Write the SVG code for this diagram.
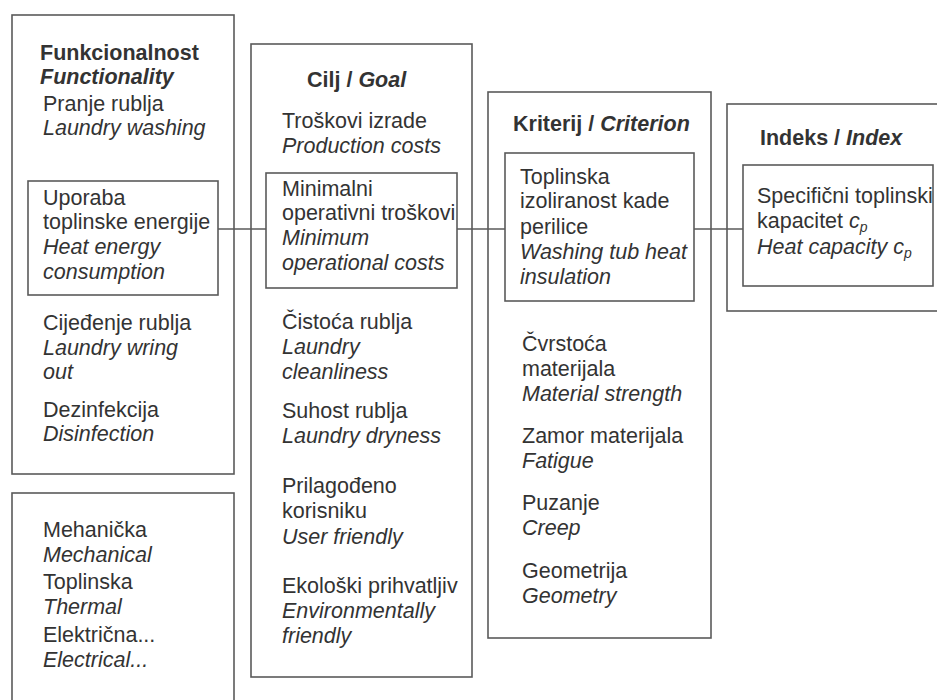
<svg xmlns="http://www.w3.org/2000/svg" width="937" height="700" viewBox="0 0 937 700">
<style>
.box{fill:none;stroke:#5a5a5a;stroke-width:1.6}
.con{fill:none;stroke:#5a5a5a;stroke-width:1.4}
text{font-family:"Liberation Sans",Arial,sans-serif;font-size:21.5px;fill:#333}
.h{font-weight:bold;font-size:21.5px}
.i{font-style:italic}
.sub{font-style:italic;font-size:14px}
</style>
<rect x="0" y="0" width="937" height="700" fill="#fff"/>
<g id="connectors">
<line class="con" x1="218" y1="229" x2="266" y2="229"/>
<line class="con" x1="457" y1="229" x2="505" y2="229"/>
<line class="con" x1="694" y1="229" x2="743" y2="229"/>
</g>
<g id="functionality">
<rect class="box" x="12" y="15" width="222" height="459"/>
<text class="h" x="40" y="60">Funkcionalnost</text>
<text class="h i" x="40" y="84">Functionality</text>
<text x="43" y="111">Pranje rublja</text>
<text class="i" x="43" y="135">Laundry washing</text>
<text x="43" y="330">Cijeđenje rublja</text>
<text class="i" x="43" y="355">Laundry wring</text>
<text class="i" x="43" y="379">out</text>
<text x="43" y="417">Dezinfekcija</text>
<text class="i" x="43" y="441">Disinfection</text>
</g>
<g id="heat-energy">
<rect class="box" x="28" y="181" width="190" height="114"/>
<text x="43" y="205">Uporaba</text>
<text x="43" y="229">toplinske energije</text>
<text class="i" x="43" y="254">Heat energy</text>
<text class="i" x="43" y="279">consumption</text>
</g>
<g id="energy-types">
<rect class="box" x="12" y="493" width="222" height="220"/>
<text x="43" y="537">Mehanička</text>
<text class="i" x="43" y="562">Mechanical</text>
<text x="43" y="589">Toplinska</text>
<text class="i" x="43" y="614">Thermal</text>
<text x="43" y="642">Električna...</text>
<text class="i" x="43" y="667">Electrical...</text>
</g>
<g id="goal">
<rect class="box" x="251" y="44" width="221" height="633"/>
<text class="h" x="307" y="87">Cilj / <tspan class="i">Goal</tspan></text>
<text x="282" y="128">Troškovi izrade</text>
<text class="i" x="282" y="153">Production costs</text>
<text x="282" y="329">Čistoća rublja</text>
<text class="i" x="282" y="354">Laundry</text>
<text class="i" x="282" y="379">cleanliness</text>
<text x="282" y="418">Suhost rublja</text>
<text class="i" x="282" y="443">Laundry dryness</text>
<text x="282" y="493">Prilagođeno</text>
<text x="282" y="518">korisniku</text>
<text class="i" x="282" y="544">User friendly</text>
<text x="282" y="593">Ekološki prihvatljiv</text>
<text class="i" x="282" y="618">Environmentally</text>
<text class="i" x="282" y="643">friendly</text>
</g>
<g id="min-costs">
<rect class="box" x="266" y="173" width="191" height="115"/>
<text x="282" y="196">Minimalni</text>
<text x="282" y="220">operativni troškovi</text>
<text class="i" x="282" y="245">Minimum</text>
<text class="i" x="282" y="270">operational costs</text>
</g>
<g id="criterion">
<rect class="box" x="488" y="92" width="223" height="546"/>
<text class="h" x="513" y="131">Kriterij / <tspan class="i">Criterion</tspan></text>
<text x="522" y="351">Čvrstoća</text>
<text x="522" y="376">materijala</text>
<text class="i" x="522" y="401">Material strength</text>
<text x="522" y="443">Zamor materijala</text>
<text class="i" x="522" y="468">Fatigue</text>
<text x="522" y="510">Puzanje</text>
<text class="i" x="522" y="535">Creep</text>
<text x="522" y="578">Geometrija</text>
<text class="i" x="522" y="603">Geometry</text>
</g>
<g id="insulation">
<rect class="box" x="505" y="153" width="189" height="148"/>
<text x="520" y="184">Toplinska</text>
<text x="520" y="208">izoliranost kade</text>
<text x="520" y="234">perilice</text>
<text class="i" x="520" y="259">Washing tub heat</text>
<text class="i" x="520" y="284">insulation</text>
</g>
<g id="index">
<rect class="box" x="727" y="104" width="220" height="207"/>
<text class="h" x="760" y="145">Indeks / <tspan class="i">Index</tspan></text>
</g>
<g id="heat-capacity">
<rect class="box" x="743" y="165" width="190" height="121"/>
<text x="757" y="203">Specifični toplinski</text>
<text x="757" y="228">kapacitet <tspan class="i">c</tspan><tspan class="sub" dy="4">p</tspan></text>
<text class="i" x="757" y="254">Heat capacity c<tspan class="sub" dy="4">p</tspan></text>
</g>
</svg>
